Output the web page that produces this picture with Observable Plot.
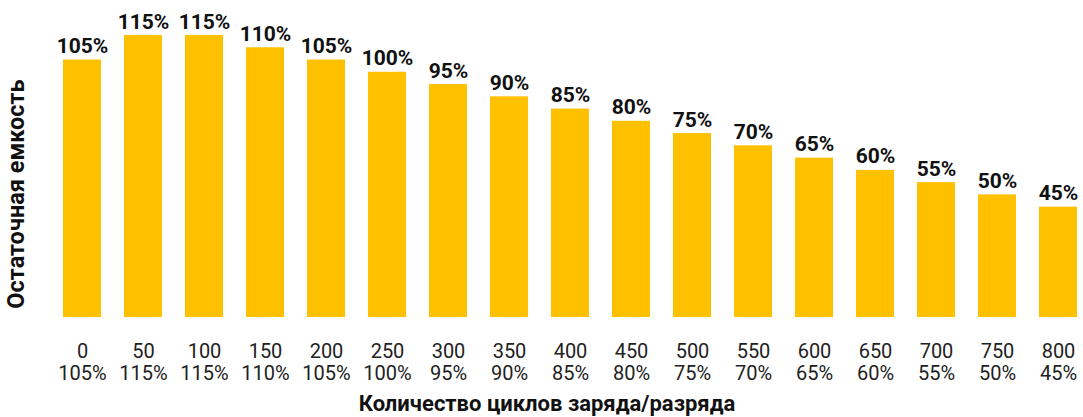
<!DOCTYPE html>
<html><head><meta charset="utf-8">
<script src="https://cdn.jsdelivr.net/npm/d3@7"></script>
<script src="https://cdn.jsdelivr.net/npm/@observablehq/plot@0.6"></script>
<style>
body{margin:0;background:#fff;font-family:Roboto,sans-serif;}
</style></head>
<body><div id="chart"></div>
<script>
const cycles = [0,50,100,150,200,250,300,350,400,450,500,550,600,650,700,750,800];
const capacity = [105,115,115,110,105,100,95,90,85,80,75,70,65,60,55,50,45];
const xTitle = "Количество циклов заряда/разряда";
const yTitle = "Остаточная емкость";

const data = cycles.map((c,i)=>({cycle:String(c), value:capacity[i]}));

const chart = Plot.plot({
  width: 1083,
  height: 417,
  marginLeft: 57,
  marginRight: 0,
  marginTop: 35,
  marginBottom: 100,
  style: {fontFamily: "Roboto, sans-serif", background: "#fff"},
  x: {domain: cycles.map(String), paddingInner: 0.378, paddingOuter: 0.082, label: null},
  y: {domain: [0,115], axis: null},
  marks: [
    Plot.barY(data, {x:"cycle", y:"value", fill:"#FFC000"}),
    Plot.text(data, {x:"cycle", y:"value", text:d=>d.value+"%", lineAnchor:"bottom", dy:-7, fontSize:21, fontWeight:"bold", fill:"#111"}),
    Plot.axisX({tickSize:0, tickPadding:25, fontSize:20, lineHeight:1.1, fill:"#222",
      tickFormat:(d)=>`${d}\n${capacity[cycles.map(String).indexOf(d)]}%`, label:null})
  ]
});
document.getElementById("chart").appendChild(chart);
const svg = d3.select(chart);
svg.append("text").attr("x", 547).attr("y", 405).attr("text-anchor","middle")
  .attr("dominant-baseline","middle").attr("font-size",22).attr("font-weight","bold")
  .attr("fill","#111").attr("font-family","Roboto, sans-serif").text(xTitle);
svg.append("text").attr("transform","translate(18,194) rotate(-90)").attr("text-anchor","middle")
  .attr("dominant-baseline","middle").attr("font-size",23.5).attr("font-weight","bold")
  .attr("fill","#111").attr("font-family","Roboto, sans-serif").text(yTitle);
</script></body></html>
